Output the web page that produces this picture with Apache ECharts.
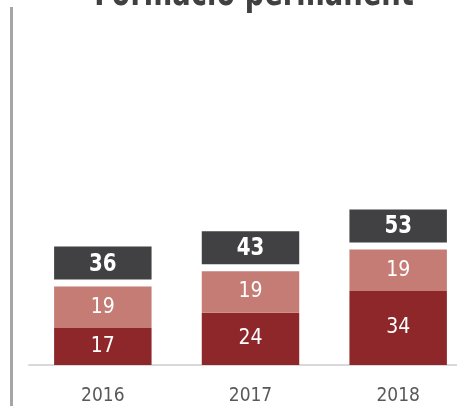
<!DOCTYPE html>
<html>
<head>
<meta charset="utf-8">
<script src="https://cdn.jsdelivr.net/npm/echarts@6/dist/echarts.min.js"></script>
<style>
html,body{margin:0;padding:0;background:#fff;}
#chart{width:457px;height:406px;}
</style>
</head>
<body>
<div id="chart"></div>
<script>
const categories = ['2016', '2017', '2018'];
const baseValues = [17, 24, 34];
const extraValues = [19, 19, 19];
const totals = [36, 43, 53];
const titleText = 'Formació permanent';

const FONT = '"DejaVu Sans Condensed", "Liberation Sans Narrow", sans-serif';
const chart = echarts.init(document.getElementById('chart'), null, {renderer: 'canvas'});

chart.setOption({
  animation: false,
  backgroundColor: '#ffffff',
  grid: {left: 29, top: 147, width: 443, height: 218, outerBoundsMode: 'none', containLabel: false},
  xAxis: {
    type: 'category',
    data: categories,
    axisLine: {lineStyle: {color: '#d9d9d9', width: 2}},
    axisTick: {show: false},
    axisLabel: {color: '#595959', fontSize: 19, fontFamily: FONT, margin: 22}
  },
  yAxis: {
    type: 'value', min: 0, max: 100,
    show: false, splitLine: {show: false}
  },
  graphic: [
    {type: 'rect', shape: {x: 10, y: 7, width: 3, height: 400}, style: {fill: '#a6a6a6'}},
    {type: 'text', x: 254, y: -5, scaleX: 0.8, style: {text: titleText, x: 0, y: 0, align: 'center', verticalAlign: 'middle',
      font: 'bold 38px ' + FONT, fill: '#404040'}}
  ],
  series: [
    {
      type: 'bar', stack: 's', barWidth: '66%', data: baseValues,
      itemStyle: {color: '#8e272a'},
      label: {show: true, position: 'inside', color: '#fff', fontSize: 21, fontFamily: FONT}
    },
    {
      type: 'bar', stack: 's', barWidth: '66%', data: extraValues,
      itemStyle: {color: '#c47c75'},
      label: {show: true, position: 'inside', color: '#fff', fontSize: 21, fontFamily: FONT}
    },
    {
      type: 'custom',
      data: totals.map((t, i) => [i, t]),
      renderItem: function (params, api) {
        const idx = api.value(0);
        const total = api.value(1);
        const pt = api.coord([idx, total]);
        const bw = api.size([1, 0])[0] * 0.66;
        const h = 33, gap = 7;
        const x = pt[0] - bw / 2, y = pt[1] - gap - h;
        return {
          type: 'group',
          children: [
            {type: 'rect', shape: {x: x, y: y, width: bw, height: h}, style: {fill: '#414042'}},
            {type: 'text', x: pt[0], y: y + h / 2 + 1, scaleX: 0.88,
              style: {text: String(total), x: 0, y: 0, align: 'center', verticalAlign: 'middle',
              font: 'bold 25px ' + FONT, fill: '#ffffff'}}
          ]
        };
      }
    }
  ]
});
</script>
</body>
</html>
